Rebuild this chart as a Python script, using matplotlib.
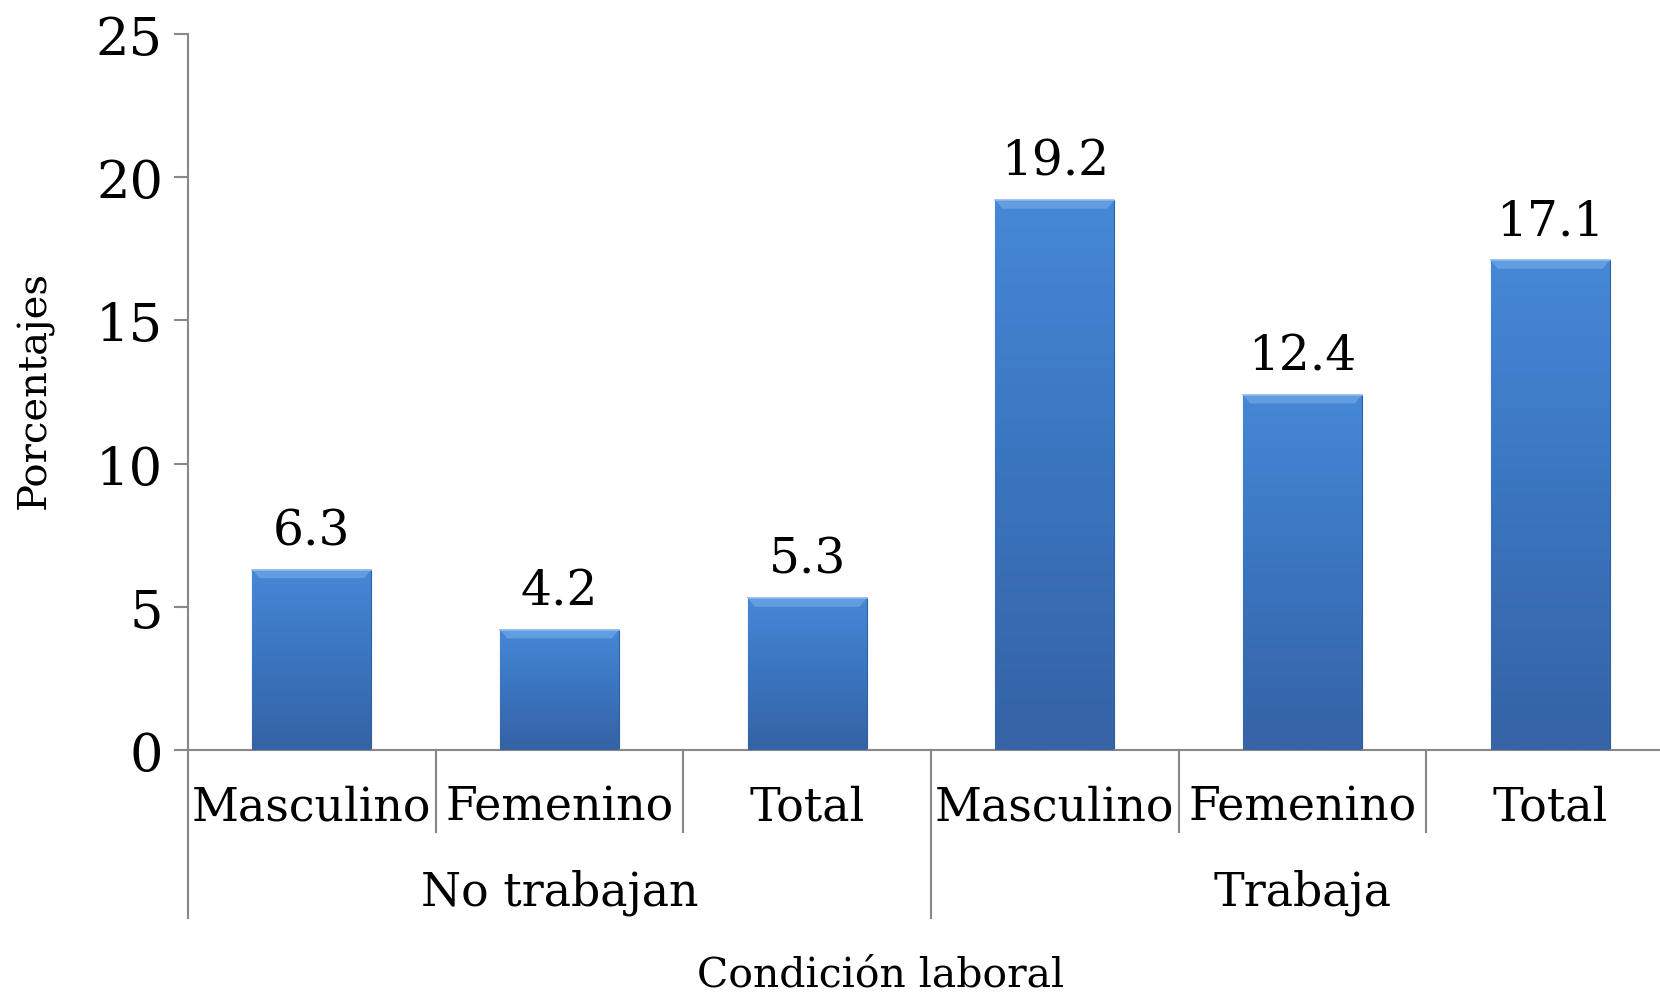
import matplotlib
matplotlib.use("Agg")
import matplotlib.pyplot as plt
import numpy as np
from matplotlib.colors import LinearSegmentedColormap
import matplotlib.transforms as mtransforms

categories = ["Masculino", "Femenino", "Total", "Masculino", "Femenino", "Total"]
groups = ["No trabajan", "Trabaja"]
values = [6.3, 4.2, 5.3, 19.2, 12.4, 17.1]
value_labels = ["6.3", "4.2", "5.3", "19.2", "12.4", "17.1"]
yticks = [0, 5, 10, 15, 20, 25]

plt.rcParams['font.family'] = ['DejaVu Serif']

W, H = 1660, 995
fig = plt.figure(figsize=(W / 100, H / 100), dpi=100)
ax = fig.add_axes([188 / W, 1 - 751 / H, 1486 / W, 716 / H])

x = np.arange(len(values))
bars = ax.bar(x, values, width=0.48, color="#3b78c6", edgecolor="#2d5f9e", linewidth=0.8, zorder=2)

cmap = LinearSegmentedColormap.from_list("g", ["#3563a5", "#3a74bf", "#4688d6"])
grad = np.linspace(0, 1, 256).reshape(-1, 1)
for b in bars:
    x0, y0 = b.get_x(), b.get_y()
    w, h = b.get_width(), b.get_height()
    im = ax.imshow(grad, extent=[x0, x0 + w, y0, y0 + h], origin="lower", cmap=cmap,
                   aspect="auto", zorder=3)
    im.set_clip_path(b)
    ax.fill([x0, x0 + w, x0 + w * 0.94, x0 + w * 0.06], [h, h, h - 0.3, h - 0.3],
            color="#6aa3e6", alpha=0.8, zorder=4, linewidth=0)
    ax.plot([x0, x0 + w], [h, h], color="#8fbaf0", linewidth=1.2, zorder=5)

for xi, v, lab in zip(x, values, value_labels):
    ax.annotate(lab, (xi, v), xytext=(0, 11), textcoords="offset points",
                ha="center", va="bottom", fontsize=35, color="black")

ax.set_xlim(-0.5, 5.5)
ax.set_ylim(0, 25)
ax.set_yticks(yticks)
ax.set_yticklabels([str(t) for t in yticks], fontsize=38)
ax.tick_params(axis="y", length=10, width=1.5, color="#888888", pad=8)
ax.set_xticks([])
for s in ["top", "right"]:
    ax.spines[s].set_visible(False)
for s in ["left", "bottom"]:
    ax.spines[s].set_color("#888888")
    ax.spines[s].set_linewidth(1.5)

trans = mtransforms.blended_transform_factory(ax.transData, ax.transAxes)
for d in [0.5, 1.5, 3.5, 4.5, 5.5]:
    ax.plot([d, d], [0, -0.1145], transform=trans, color="#888888", linewidth=1.5, clip_on=False)
for d in [-0.5, 2.5]:
    ax.plot([d, d], [0, -0.2346], transform=trans, color="#888888", linewidth=1.5, clip_on=False)

for xi, c in zip(x, categories):
    ax.text(xi, -0.0796, c, transform=trans, ha="center", va="center", fontsize=33)
for gi, g in enumerate(groups):
    ax.text(1 + 3 * gi, -0.198, g, transform=trans, ha="center", va="center", fontsize=33)

fig.text(881 / W, 1 - 976 / H, "Condición laboral", ha="center", va="center", fontsize=29.5)
fig.text(35 / W, 1 - 390 / H, "Porcentajes", ha="center", va="center", rotation=90, fontsize=29)

fig.savefig("out.png", dpi=100, facecolor="white")
